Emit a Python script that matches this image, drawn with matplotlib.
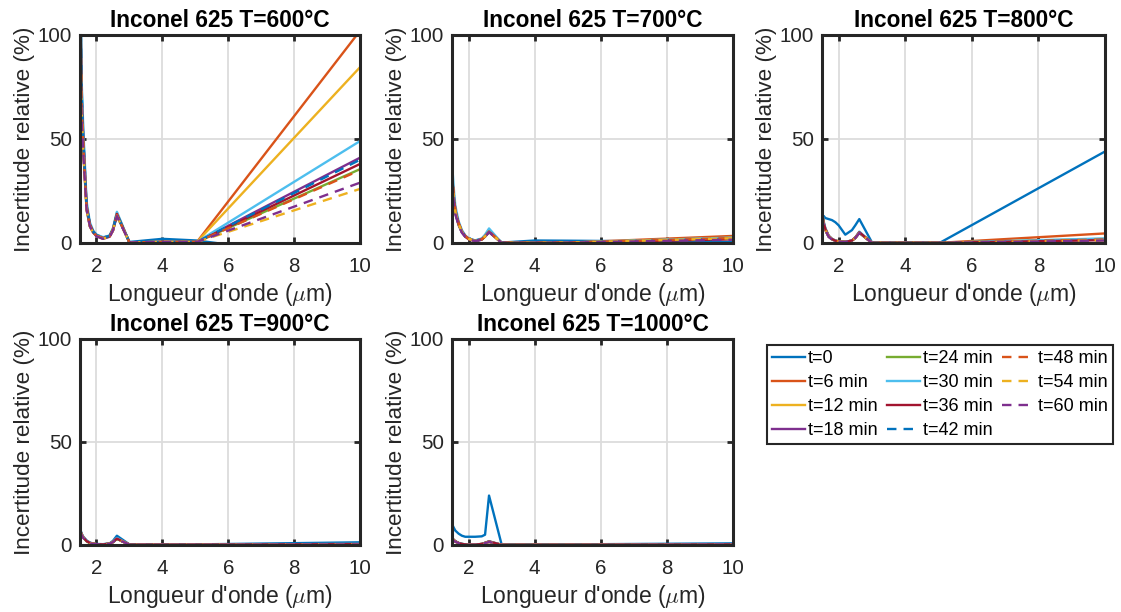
import matplotlib
matplotlib.use("Agg")
import matplotlib.pyplot as plt

plt.rcParams['font.family'] = ['Liberation Sans', 'DejaVu Sans']
plt.rcParams['mathtext.fontset'] = 'cm'

W, H = 1121, 612

wavelength = [1.5, 1.55, 1.6, 1.7, 1.8, 1.9, 2.0, 2.2, 2.4, 2.5, 2.62, 3.0, 4.0, 5.05, 10.0]

labels = ['t=0', 't=6 min', 't=12 min', 't=18 min', 't=24 min', 't=30 min',
          't=36 min', 't=42 min', 't=48 min', 't=54 min', 't=60 min']
colors = ['#0072BD', '#D95319', '#EDB120', '#7E2F8E', '#77AC30', '#4DBEEE',
          '#A2142F', '#0072BD', '#D95319', '#EDB120', '#7E2F8E']
styles = ['-', '-', '-', '-', '-', '-', '-', '--', '--', '--', '--']

titles = ['Inconel 625 T=600°C', 'Inconel 625 T=700°C', 'Inconel 625 T=800°C',
          'Inconel 625 T=900°C', 'Inconel 625 T=1000°C']

# T = 600 °C
u600_t0  = [135, 75, 52, 18, 9.0, 5.5, 4.0, 2.5, 3.5, 6.0, 13.0, 0.5, 2.0, 1.2, -9]
u600_t6  = [140, 70, 48, 17, 8.5, 5.0, 3.5, 2.3, 3.2, 6.0, 14.0, 0.3, 0.5, 0.5, 102]
u600_t12 = [120, 68, 45, 16, 8.0, 5.0, 3.5, 2.2, 3.2, 6.5, 14.0, 0.3, 0.5, 0.5, 84.5]
u600_t18 = [100, 62, 44, 16, 8.0, 5.0, 3.4, 2.0, 3.0, 6.0, 13.5, 0.3, 0.5, 0.5, 41]
u600_t24 = [110, 65, 46, 17, 9.0, 5.5, 3.8, 2.5, 3.5, 7.0, 14.5, 0.3, 0.5, 0.5, 35.5]
u600_t30 = [150, 78, 55, 20, 10.0, 6.0, 4.0, 2.8, 3.6, 7.0, 15.0, 0.3, 0.5, 0.5, 49]
u600_t36 = [125, 70, 50, 18, 9.0, 5.5, 3.6, 2.4, 3.3, 6.5, 14.0, 0.3, 0.5, 0.5, 38]
u600_t42 = [130, 72, 50, 18, 9.0, 5.5, 3.8, 2.6, 3.4, 6.5, 14.0, 0.3, 0.5, 0.5, 40]
u600_t48 = [115, 66, 47, 17, 8.5, 5.2, 3.5, 2.3, 3.2, 6.2, 13.5, 0.3, 0.5, 0.5, 35]
u600_t54 = [105, 64, 45, 16, 8.0, 5.0, 3.3, 2.1, 3.0, 6.0, 13.0, 0.3, 0.5, 0.5, 26]
u600_t60 = [98, 60, 43, 16, 8.0, 5.0, 3.2, 2.0, 3.0, 6.0, 13.0, 0.3, 0.5, 0.5, 29]

# T = 700 °C
u700_t0  = [33, 23, 16, 9.0, 5.5, 3.3, 2.2, 1.2, 2.0, 3.5, 6.0, 0.2, 1.2, 1.1, 0.5]
u700_t6  = [34, 24, 16, 9.5, 5.8, 3.4, 2.0, 1.0, 1.8, 3.2, 5.5, 0.1, 0.1, 0.2, 3.4]
u700_t12 = [32, 22, 15, 9.0, 5.4, 3.2, 2.0, 1.0, 1.8, 3.2, 5.5, 0.1, 0.1, 0.2, 2.5]
u700_t18 = [30, 21, 14, 8.5, 5.0, 3.0, 1.8, 0.9, 1.6, 3.0, 5.2, 0.1, 0.1, 0.2, 2.0]
u700_t24 = [31, 22, 15, 9.0, 5.3, 3.2, 2.0, 1.0, 1.8, 3.2, 5.5, 0.1, 0.1, 0.2, 2.2]
u700_t30 = [39, 27, 18, 10.5, 6.2, 3.7, 2.3, 1.2, 2.2, 4.0, 7.0, 0.1, 0.1, 0.2, 2.6]
u700_t36 = [33, 23, 16, 9.5, 5.6, 3.3, 2.0, 1.0, 1.8, 3.2, 5.5, 0.1, 0.1, 0.2, 1.8]
u700_t42 = [31, 22, 15, 9.0, 5.3, 3.2, 2.0, 1.0, 1.8, 3.2, 5.5, 0.1, 0.1, 0.2, 2.1]
u700_t48 = [35, 24, 16, 9.5, 5.7, 3.4, 2.1, 1.0, 1.8, 3.3, 5.6, 0.1, 0.1, 0.2, 2.4]
u700_t54 = [32, 22, 15, 9.0, 5.4, 3.2, 2.0, 1.0, 1.8, 3.2, 5.5, 0.1, 0.1, 0.2, 2.3]
u700_t60 = [30, 21, 14, 8.5, 5.0, 3.0, 1.8, 0.9, 1.6, 3.0, 5.3, 0.1, 0.1, 0.2, 1.6]

# T = 800 °C
u800_t0  = [9.0, 13.0, 12.0, 11.5, 11.0, 10.0, 8.5, 4.0, 6.2, 8.5, 11.5, 0.3, 0.2, 0.2, 44]
u800_t6  = [15.0, 10.0, 7.0, 3.5, 2.0, 1.2, 0.8, 0.5, 1.2, 2.5, 5.0, 0.1, 0.1, 0.1, 4.6]
u800_t12 = [14.0, 9.5, 6.5, 3.2, 1.8, 1.1, 0.8, 0.5, 1.2, 2.5, 5.0, 0.1, 0.1, 0.1, 2.0]
u800_t18 = [13.0, 9.0, 6.2, 3.0, 1.7, 1.0, 0.7, 0.5, 1.1, 2.4, 4.8, 0.1, 0.1, 0.1, 1.6]
u800_t24 = [14.0, 9.5, 6.5, 3.2, 1.8, 1.1, 0.8, 0.5, 1.2, 2.5, 5.0, 0.1, 0.1, 0.1, 1.8]
u800_t30 = [15.5, 10.5, 7.2, 3.6, 2.0, 1.2, 0.8, 0.5, 1.3, 2.7, 5.5, 0.1, 0.1, 0.1, 2.2]
u800_t36 = [14.5, 9.8, 6.8, 3.3, 1.9, 1.1, 0.8, 0.5, 1.2, 2.6, 5.2, 0.1, 0.1, 0.1, 1.4]
u800_t42 = [13.5, 9.2, 6.3, 3.1, 1.8, 1.0, 0.7, 0.5, 1.1, 2.4, 4.9, 0.1, 0.1, 0.1, 1.5]
u800_t48 = [14.0, 9.5, 6.5, 3.2, 1.8, 1.1, 0.8, 0.5, 1.2, 2.5, 5.0, 0.1, 0.1, 0.1, 1.7]
u800_t54 = [13.5, 9.2, 6.3, 3.1, 1.8, 1.0, 0.7, 0.5, 1.1, 2.4, 4.9, 0.1, 0.1, 0.1, 1.3]
u800_t60 = [13.0, 9.0, 6.2, 3.0, 1.7, 1.0, 0.7, 0.5, 1.1, 2.4, 4.8, 0.1, 0.1, 0.1, 1.2]

# T = 900 °C
u900_t0  = [8.0, 5.5, 4.0, 2.2, 1.2, 0.7, 0.5, 0.4, 0.8, 2.0, 4.5, 0.3, 0.3, 0.3, 1.3]
u900_t6  = [7.5, 5.2, 3.8, 2.0, 1.0, 0.6, 0.4, 0.3, 0.6, 1.5, 3.2, 0.2, 0.2, 0.2, 0.5]
u900_t12 = [7.0, 5.0, 3.6, 1.9, 1.0, 0.6, 0.4, 0.3, 0.6, 1.4, 3.0, 0.2, 0.2, 0.2, 0.4]
u900_t18 = [7.2, 5.0, 3.6, 1.9, 1.0, 0.6, 0.4, 0.3, 0.6, 1.4, 3.0, 0.2, 0.2, 0.2, 0.4]
u900_t24 = [7.0, 4.9, 3.5, 1.8, 0.9, 0.5, 0.4, 0.3, 0.6, 1.4, 3.0, 0.2, 0.2, 0.2, 0.4]
u900_t30 = [7.8, 5.4, 3.9, 2.1, 1.1, 0.6, 0.4, 0.3, 0.7, 1.6, 3.4, 0.2, 0.2, 0.2, 0.5]
u900_t36 = [7.3, 5.1, 3.7, 1.9, 1.0, 0.6, 0.4, 0.3, 0.6, 1.5, 3.1, 0.2, 0.2, 0.2, 0.4]
u900_t42 = [7.0, 4.9, 3.5, 1.8, 0.9, 0.5, 0.4, 0.3, 0.6, 1.4, 3.0, 0.2, 0.2, 0.2, 0.4]
u900_t48 = [7.2, 5.0, 3.6, 1.9, 1.0, 0.6, 0.4, 0.3, 0.6, 1.4, 3.0, 0.2, 0.2, 0.2, 0.4]
u900_t54 = [7.0, 4.9, 3.5, 1.8, 0.9, 0.5, 0.4, 0.3, 0.6, 1.4, 3.0, 0.2, 0.2, 0.2, 0.3]
u900_t60 = [6.8, 4.8, 3.4, 1.8, 0.9, 0.5, 0.4, 0.3, 0.6, 1.4, 2.9, 0.2, 0.2, 0.2, 0.3]

# T = 1000 °C
u1000_t0  = [10.2, 8.5, 7.0, 5.5, 4.5, 4.0, 4.0, 4.0, 4.2, 5.0, 24.0, 0.3, 0.3, 0.3, 0.8]
u1000_t6  = [3.5, 2.5, 1.8, 1.0, 0.5, 0.3, 0.2, 0.2, 0.5, 1.0, 1.8, 0.1, 0.1, 0.1, 0.3]
u1000_t12 = [3.2, 2.3, 1.7, 0.9, 0.5, 0.3, 0.2, 0.2, 0.5, 1.0, 1.6, 0.1, 0.1, 0.1, 0.3]
u1000_t18 = [3.0, 2.2, 1.6, 0.9, 0.5, 0.3, 0.2, 0.2, 0.5, 0.9, 1.5, 0.1, 0.1, 0.1, 0.3]
u1000_t24 = [3.3, 2.4, 1.7, 0.9, 0.5, 0.3, 0.2, 0.2, 0.5, 1.0, 1.6, 0.1, 0.1, 0.1, 0.3]
u1000_t30 = [3.6, 2.6, 1.9, 1.0, 0.6, 0.3, 0.2, 0.2, 0.5, 1.1, 1.8, 0.1, 0.1, 0.1, 0.3]
u1000_t36 = [3.4, 2.5, 1.8, 1.0, 0.5, 0.3, 0.2, 0.2, 0.5, 1.0, 1.7, 0.1, 0.1, 0.1, 0.3]
u1000_t42 = [3.2, 2.3, 1.7, 0.9, 0.5, 0.3, 0.2, 0.2, 0.5, 1.0, 1.6, 0.1, 0.1, 0.1, 0.3]
u1000_t48 = [3.3, 2.4, 1.7, 0.9, 0.5, 0.3, 0.2, 0.2, 0.5, 1.0, 1.6, 0.1, 0.1, 0.1, 0.3]
u1000_t54 = [3.1, 2.3, 1.6, 0.9, 0.5, 0.3, 0.2, 0.2, 0.5, 0.9, 1.5, 0.1, 0.1, 0.1, 0.3]
u1000_t60 = [3.0, 2.2, 1.6, 0.9, 0.5, 0.3, 0.2, 0.2, 0.5, 0.9, 1.5, 0.1, 0.1, 0.1, 0.3]

datasets = [
    [u600_t0, u600_t6, u600_t12, u600_t18, u600_t24, u600_t30, u600_t36, u600_t42, u600_t48, u600_t54, u600_t60],
    [u700_t0, u700_t6, u700_t12, u700_t18, u700_t24, u700_t30, u700_t36, u700_t42, u700_t48, u700_t54, u700_t60],
    [u800_t0, u800_t6, u800_t12, u800_t18, u800_t24, u800_t30, u800_t36, u800_t42, u800_t48, u800_t54, u800_t60],
    [u900_t0, u900_t6, u900_t12, u900_t18, u900_t24, u900_t30, u900_t36, u900_t42, u900_t48, u900_t54, u900_t60],
    [u1000_t0, u1000_t6, u1000_t12, u1000_t18, u1000_t24, u1000_t30, u1000_t36, u1000_t42, u1000_t48, u1000_t54, u1000_t60],
]

xticks = [2, 4, 6, 8, 10]
yticks = [0, 50, 100]

# axes boxes in pixels: (left, right, top, bottom)
boxes = [(80, 360, 35, 243), (452, 733, 35, 243), (822, 1105, 35, 243),
         (80, 360, 339, 545), (452, 733, 339, 545)]

fig = plt.figure(figsize=(W / 100, H / 100), dpi=100)
dark = '#262626'
handles = None
for i, (box, data, title) in enumerate(zip(boxes, datasets, titles)):
    l, r, t, b = box
    ax = fig.add_axes([l / W, 1 - b / H, (r - l) / W, (b - t) / H])
    lines = []
    for y, c, ls, lab in zip(data, colors, styles, labels):
        ln, = ax.plot(wavelength, y, color=c, linestyle=ls, lw=1.7, label=lab,
                      dashes=(4, 3) if ls == '--' else (None, None))
        lines.append(ln)
    if handles is None:
        handles = lines
    ax.set_xlim(1.5, 10)
    ax.set_ylim(0, 100)
    ax.set_xticks(xticks)
    ax.set_yticks(yticks)
    ax.grid(True, color='#dcdcdc', lw=1.3)
    ax.set_axisbelow(True)
    for s in ax.spines.values():
        s.set_linewidth(2.2)
        s.set_color(dark)
    ax.tick_params(direction='in', length=4, width=2, colors=dark, labelsize=14.8,
                   top=True, right=True)
    ax.tick_params(axis='x', pad=10)
    ax.tick_params(axis='y', pad=6)
    ax.set_title(title, fontsize=16.3, fontweight='bold', color='black', pad=6)
    ax.set_xlabel(r"Longueur d'onde ($\mu$m)", fontsize=16.5, color=dark, labelpad=4)
    ax.set_ylabel('Incertitude relative (%)', fontsize=16.2, color=dark, labelpad=2)

leg = fig.legend(handles, labels, ncol=3, loc='upper left',
                 bbox_to_anchor=(767 / W, 1 - 345 / H), fontsize=13,
                 frameon=True, fancybox=False, framealpha=1, edgecolor=dark,
                 handlelength=1.85, handletextpad=0.15, columnspacing=0.5,
                 labelspacing=0.39, borderpad=0.28, borderaxespad=0)
leg.get_frame().set_linewidth(1.5)

fig.savefig('out.png', dpi=100)
